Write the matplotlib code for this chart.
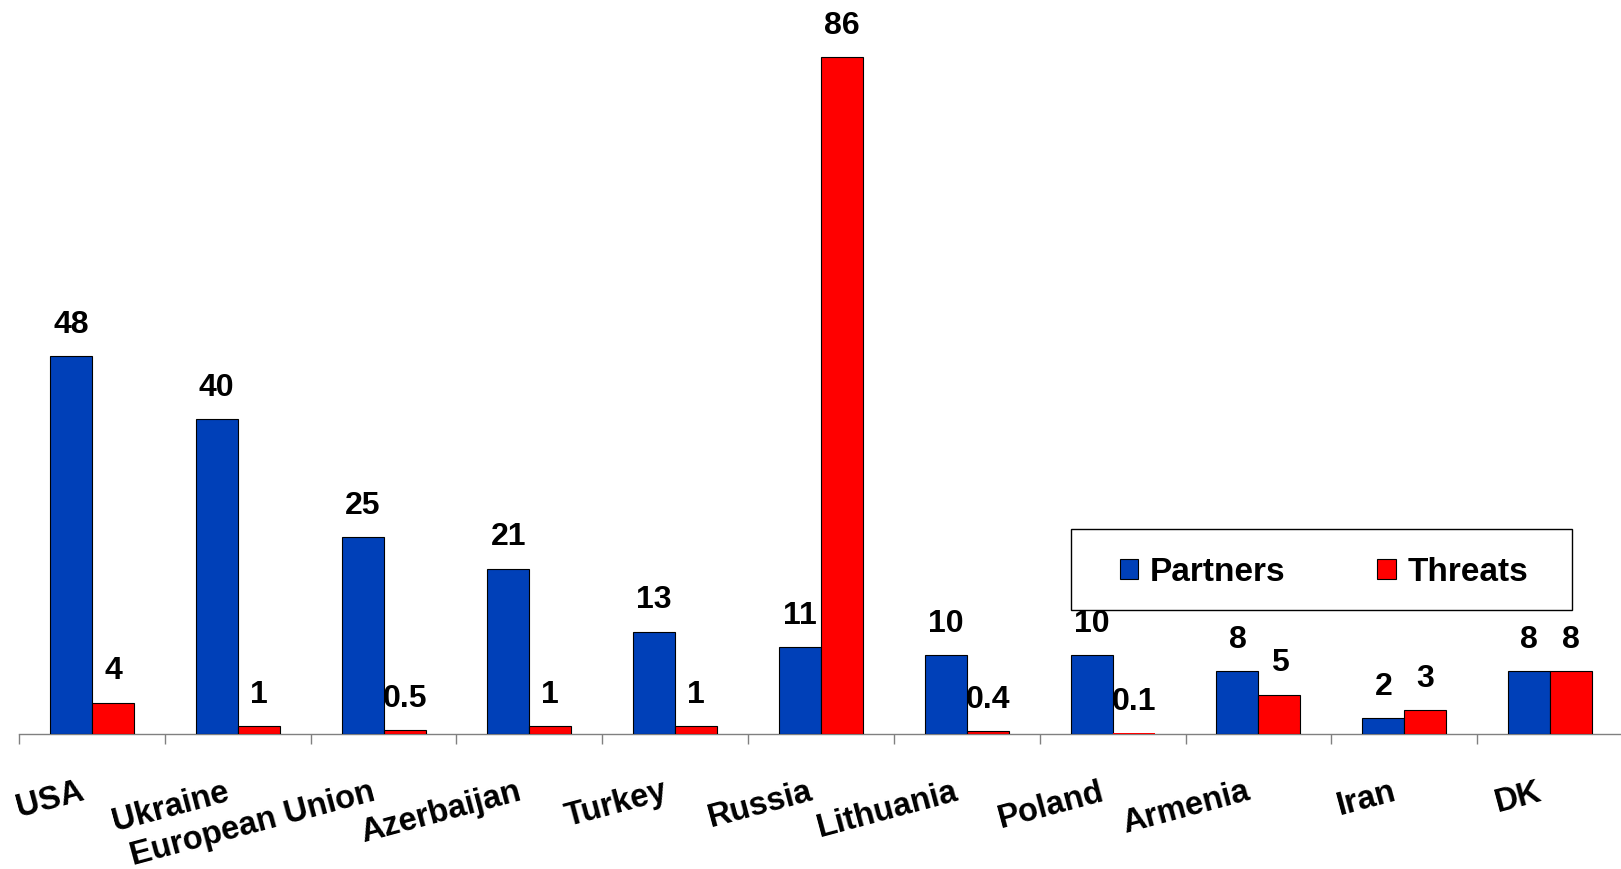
import numpy as np
import matplotlib
matplotlib.use("Agg")
import matplotlib.pyplot as plt
from matplotlib.patches import Patch, Rectangle
from matplotlib.transforms import ScaledTranslation

plt.rcParams['font.family'] = ['Liberation Sans', 'DejaVu Sans']
plt.rcParams['font.weight'] = 'bold'

categories = ['USA', 'Ukraine', 'European Union', 'Azerbaijan', 'Turkey',
              'Russia', 'Lithuania', 'Poland', 'Armenia', 'Iran', 'DK']
partners = [48, 40, 25, 21, 13, 11, 10, 10, 8, 2, 8]
threats = [4, 1, 0.5, 1, 1, 86, 0.4, 0.1, 5, 3, 8]

BLUE = '#0040B8'
RED = '#FF0000'
FS_VAL = 23
FS_CAT = 23.5
FS_LEG = 24

W, H = 1621, 869
fig = plt.figure(figsize=(W / 100, H / 100), dpi=100)
fig.patch.set_facecolor('white')

# axes: baseline at y=734 px, 7.87 px per unit
y_base = 734
px_per_unit = 7.87
ymax = 90
ax_h = ymax * px_per_unit
ax = fig.add_axes([19 / W, (H - y_base) / H, 1604 / W, ax_h / H])

x = np.arange(len(categories))
bw = 0.288
b1 = ax.bar(x - bw / 2, partners, bw, color=BLUE, edgecolor='black', linewidth=0.8, zorder=3)
b2 = ax.bar(x + bw / 2, threats, bw, color=RED, edgecolor='black', linewidth=0.8, zorder=3)

# bars thinner than a pixel get no outline
for rect in list(b1) + list(b2):
    if rect.get_height() * px_per_unit < 1.0:
        rect.set_linewidth(0)

ax.set_xlim(-0.5, len(categories) - 0.5)
ax.set_ylim(0, ymax)

for bars, vals in ((b1, partners), (b2, threats)):
    for rect, v in zip(bars, vals):
        ax.annotate(f'{v:g}', (rect.get_x() + rect.get_width() / 2, v),
                    xytext=(0, 22.5), textcoords='offset points',
                    ha='center', va='center', fontsize=FS_VAL, fontweight='bold')

for s in ('top', 'right', 'left'):
    ax.spines[s].set_visible(False)
ax.spines['bottom'].set_color('#808080')
ax.spines['bottom'].set_linewidth(1.0)
ax.set_yticks([])

# boundary ticks between categories
ax.set_xticks(np.arange(-0.5, len(categories), 1.0))
ax.set_xticklabels([])
ax.tick_params(axis='x', which='major', direction='out', length=7.5,
               width=1.0, color='#808080')

# category labels on minor ticks
ax.set_xticks(x, labels=categories, minor=True)
ax.tick_params(axis='x', which='minor', length=0, pad=30.5)
shift = ScaledTranslation(-13 / 100, 0, fig.dpi_scale_trans)
for lab in ax.get_xticklabels(minor=True):
    lab.set_rotation(15)
    lab.set_ha('right')
    lab.set_va('top')
    lab.set_rotation_mode('anchor')
    lab.set_fontsize(FS_CAT)
    lab.set_fontweight('bold')
    lab.set_transform(lab.get_transform() + shift)

# legend in a framed box
bx0, bx1, by0, by1 = 1071, 1572, 529, 610
fig.patches.append(Rectangle((bx0 / W, (H - by1) / H), (bx1 - bx0) / W, (by1 - by0) / H,
                             transform=fig.transFigure, facecolor='white',
                             edgecolor='black', linewidth=1.0, zorder=5))
handles = [Patch(facecolor=BLUE, edgecolor='black', linewidth=0.8),
           Patch(facecolor=RED, edgecolor='black', linewidth=0.8)]
fig.legend(handles, ['Partners', 'Threats'], loc='center',
           bbox_to_anchor=(((bx0 + bx1) / 2 + 2.6) / W, 1 - ((by0 + by1) / 2 + 3) / H),
           ncol=2, frameon=False, prop={'weight': 'bold', 'size': FS_LEG},
           handlelength=0.55, handleheight=0.55, handletextpad=0.36,
           columnspacing=2.74)

fig.savefig('out.png', dpi=100, facecolor='white')
